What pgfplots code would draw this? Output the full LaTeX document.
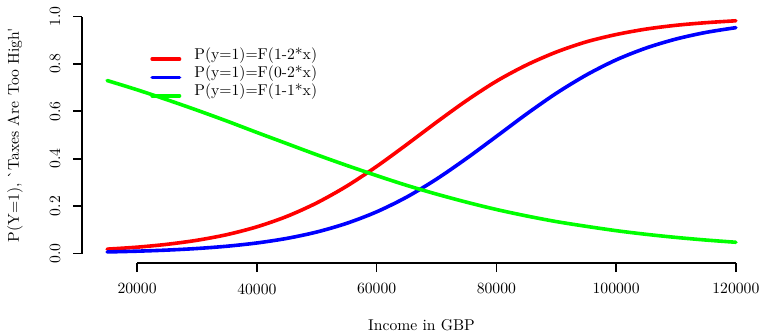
\documentclass[border=0pt]{standalone}
\usepackage{pgfplots}
\pgfplotsset{compat=1.18}
\usetikzlibrary{calc}
\definecolor{rred}{RGB}{255,0,0}
\definecolor{rblue}{RGB}{0,0,255}
\definecolor{rgreen}{RGB}{0,255,0}
\begin{document}
\begin{tikzpicture}
\begin{axis}[
  scale only axis, width=433.9pt, height=163.6pt,
  xmin=10800, xmax=124200, ymin=-0.04, ymax=1.04,
  axis x line*=bottom, axis y line*=left,
  x axis line style={draw=black, line width=0.9pt, -, shorten <=35.2pt, shorten >=16.07pt},
  y axis line style={draw=black, line width=0.9pt, -, shorten <=6.06pt, shorten >=6.06pt},
  clip=false,
  scaled x ticks=false, scaled y ticks=false,
  tick align=outside, major tick length=5.75pt,
  tick style={draw=black, line width=0.9pt},
  xtick={20000,40000,60000,80000,100000,120000},
  xticklabels={20000,40000,60000,80000,100000,120000},
  ytick={0,0.2,0.4,0.6,0.8,1},
  yticklabels={0.0,0.2,0.4,0.6,0.8,1.0},
  yticklabel style={xshift=-4.5pt, rotate=90, anchor=south},
  xticklabel style={anchor=north, yshift=-3.8pt},
  xlabel={Income in GBP},
  ylabel={P(Y=1), \textasciigrave Taxes Are Too High\textquotesingle},
  xlabel style={at={(axis description cs:0.5,-0.242)}, anchor=center},
  ylabel style={at={(axis description cs:-0.0986,0.5)}, anchor=center},
  every axis plot/.append style={line width=2.3pt, line cap=round},
  legend style={draw=none, fill=none, at={(axis description cs:0.1002,0.8406)}, anchor=north west,
    inner sep=0pt, row sep=2.2pt, column sep=8.4pt,
    nodes={inner sep=0pt, text height=7pt, text depth=2.5pt, anchor=base west}},
  legend cell align=left,
  legend image code/.code={\draw[#1] (1.15pt,0pt) -- (18.65pt,0pt);},
]
\addplot[rred, smooth] coordinates {
(15000,0.0187)(20000,0.0270)(25000,0.0391)(30000,0.0561)(35000,0.0799)
(40000,0.1128)(45000,0.1567)(50000,0.2137)(55000,0.2843)(60000,0.3675)
(65000,0.4593)(70000,0.554)(75000,0.645)(80000,0.727)(85000,0.795)
(90000,0.850)(95000,0.893)(100000,0.924)(105000,0.947)(110000,0.963)
(115000,0.974)(120000,0.982)};
\addlegendentry{P(y=1)=F(1-2*x)}
\addplot[rblue, smooth] coordinates {
(15000,0.0069)(20000,0.0101)(25000,0.0147)(30000,0.0214)(35000,0.0310)
(40000,0.0447)(45000,0.0640)(50000,0.0909)(55000,0.1276)(60000,0.176)
(65000,0.238)(70000,0.314)(75000,0.401)(80000,0.494)(85000,0.588)
(90000,0.676)(95000,0.753)(100000,0.817)(105000,0.867)(110000,0.905)
(115000,0.933)(120000,0.953)};
\addlegendentry{P(y=1)=F(0-2*x)}
\addplot[rgreen, smooth] coordinates {
(15000,0.730)(20000,0.691)(25000,0.649)(30000,0.605)(35000,0.559)
(40000,0.511)(45000,0.464)(50000,0.417)(55000,0.372)(60000,0.329)
(65000,0.288)(70000,0.251)(75000,0.217)(80000,0.186)(85000,0.159)
(90000,0.135)(95000,0.115)(100000,0.0967)(105000,0.0813)(110000,0.0682)
(115000,0.0571)(120000,0.0477)};
\addlegendentry{P(y=1)=F(1-1*x)}
\end{axis}
\draw[black, line width=1.1pt] ($(current axis.south west)+(0pt,6.06pt)$) -- ($(current axis.south west)+(0pt,157.54pt)$);
\foreach \yy in {6.06,36.36,66.65,96.95,127.24,157.54}{
  \draw[black, line width=1.1pt] ($(current axis.south west)+(0pt,\yy pt)$) -- ($(current axis.south west)+(-5.75pt,\yy pt)$);
}
\pgfresetboundingbox
\path[use as bounding box] ($(current axis.south west)+(-52.4pt,-46pt)$) rectangle ($(current axis.north east)+(0pt,4.5pt)$);
\end{tikzpicture}
\end{document}
